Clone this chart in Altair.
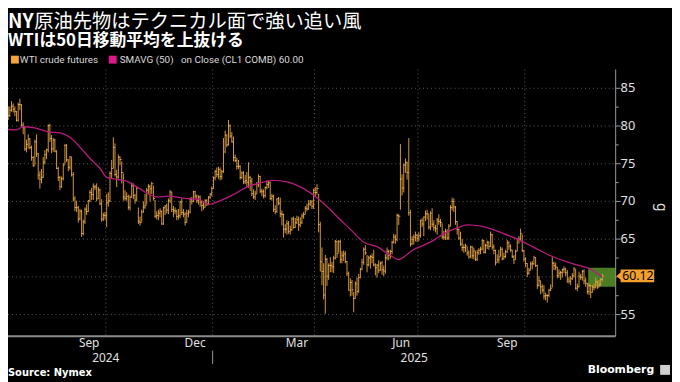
import altair as alt
import numpy as np
import pandas as pd

# ---------------- text ----------------
TITLE_NY = "NY"
TITLE_REST = "原油先物はテクニカル面で強い追い風"
SUBTITLE = "WTIは50日移動平均を上抜ける"
LEGEND_PRICE = "WTI crude futures"
LEGEND_SMA = "SMAVG (50)\u00a0\u00a0 on Close (CL1 COMB) 60.00"
SOURCE = "Source: Nymex"
BRAND = "Bloomberg"
Y_TITLE = "g"
Y_TICKS = [55, 60, 65, 70, 75, 80, 85]
Y_LABELS = [55, 65, 70, 75, 80, 85]   # the 60 label sits under the price tag
Y_MINOR = [57.5, 62.5, 67.5, 72.5, 77.5, 82.5]
LAST_PRICE = [60.12]
LAST_LABEL = "60.12"
BOX_START = "2025-11-24"
BOX_RANGE = [58.7, 61.2]
LABELED_MONTHS = {"2024-09": "Sep", "2024-12": "Dec", "2025-03": "Mar",
                  "2025-06": "Jun", "2025-09": "Sep"}
GRID_MONTHS = ["2024-10", "2025-01", "2025-04", "2025-07", "2025-10"]
HOLIDAYS = ["2024-07-04", "2024-09-02", "2024-11-28", "2024-12-25", "2025-01-01",
            "2025-01-20", "2025-02-17", "2025-04-18", "2025-05-26", "2025-06-19",
            "2025-07-04", "2025-09-01", "2025-11-27"]

# ---------------- daily bars (close / high / low) ----------------
close_2024_07 = [83.38, 82.81, 83.88, 83.16, 82.33, 81.41, 82.10, 82.62, 82.21, 81.91, 80.76, 82.85, 82.82, 80.13, 79.78, 76.96, 77.59, 78.28, 77.16, 75.81, 74.73, 77.91]
high_2024_07 = [83.5, 84.0, 84.1, 84.5, 83.5, 82.6, 82.6, 83.3, 83.0, 82.6, 82.0, 83.1, 83.6, 82.9, 80.5, 79.9, 78.2, 78.9, 78.4, 77.4, 76.0, 78.2]
low_2024_07 = [81.4, 82.4, 82.6, 82.8, 82.0, 80.8, 81.2, 81.9, 81.8, 81.3, 80.6, 80.6, 82.1, 79.9, 78.9, 76.7, 76.5, 77.0, 76.9, 75.4, 74.6, 74.8]

close_2024_08 = [76.31, 73.52, 72.94, 73.20, 75.23, 76.19, 76.84, 80.06, 78.35, 76.98, 78.16, 76.65, 74.37, 73.17, 71.93, 73.01, 74.83, 77.42, 75.53, 74.52, 75.91, 73.55]
high_2024_08 = [78.9, 76.4, 74.0, 74.3, 75.9, 76.8, 77.0, 80.2, 80.3, 78.8, 78.4, 78.3, 76.8, 74.6, 73.4, 73.3, 75.1, 77.6, 77.6, 75.6, 76.0, 75.9]
low_2024_08 = [75.9, 72.9, 71.7, 72.4, 73.1, 74.9, 75.6, 76.5, 77.9, 76.4, 76.6, 76.5, 74.3, 72.7, 71.5, 71.8, 72.8, 74.9, 75.2, 74.0, 74.2, 73.3]

close_2024_09 = [70.34, 69.20, 69.15, 67.67, 68.71, 65.75, 67.31, 68.97, 68.65, 70.09, 71.19, 70.91, 71.95, 71.92, 70.37, 71.56, 69.69, 67.67, 68.18, 68.17]
high_2024_09 = [73.9, 70.7, 70.1, 69.4, 69.0, 68.9, 67.6, 69.2, 69.6, 70.2, 71.5, 71.8, 72.4, 72.2, 72.4, 71.9, 71.7, 70.3, 68.5, 68.6]
low_2024_09 = [70.0, 68.7, 68.6, 67.2, 67.5, 65.3, 65.5, 67.0, 68.2, 68.6, 69.9, 70.2, 70.2, 71.5, 70.0, 70.3, 69.5, 67.3, 67.4, 67.6]

close_2024_10 = [69.83, 70.10, 73.71, 74.38, 77.14, 73.57, 73.24, 75.85, 75.56, 73.83, 70.58, 70.39, 70.67, 69.22, 70.56, 72.09, 70.77, 70.19, 71.78, 67.38, 67.21, 68.61, 69.26]
high_2024_10 = [71.0, 71.2, 74.0, 75.5, 78.5, 77.7, 74.2, 76.2, 76.0, 75.3, 73.7, 71.5, 71.2, 70.9, 70.8, 72.5, 72.4, 71.0, 72.0, 69.2, 68.0, 68.9, 70.0]
low_2024_10 = [66.6, 69.3, 69.9, 73.0, 74.4, 73.3, 71.9, 73.0, 74.8, 72.4, 70.1, 70.1, 70.1, 68.9, 68.8, 70.5, 70.3, 69.7, 70.0, 67.0, 66.8, 67.3, 68.5]

close_2024_11 = [69.49, 71.47, 71.99, 71.69, 72.36, 70.38, 68.04, 68.12, 68.43, 68.70, 67.02, 69.16, 69.39, 68.87, 70.10, 71.24, 68.94, 68.77, 68.72, 68.00]
high_2024_11 = [71.0, 71.8, 72.3, 72.2, 72.6, 72.1, 70.2, 68.7, 68.9, 69.1, 68.8, 69.3, 69.5, 69.7, 70.4, 71.5, 71.3, 69.4, 69.2, 68.9]
low_2024_11 = [69.0, 69.6, 71.0, 70.0, 71.0, 70.1, 67.8, 67.6, 67.5, 67.9, 66.9, 66.9, 68.2, 68.4, 68.3, 69.8, 68.6, 67.9, 68.3, 67.5]

close_2024_12 = [68.10, 69.94, 68.54, 68.30, 67.20, 68.37, 68.59, 70.29, 70.02, 71.29, 70.71, 70.08, 70.58, 69.91, 69.46, 69.24, 70.10, 69.62, 70.60, 70.99, 71.72]
high_2024_12 = [69.0, 70.1, 70.4, 69.0, 68.6, 68.9, 68.9, 70.5, 70.6, 71.4, 71.4, 70.9, 70.8, 70.8, 70.0, 70.0, 70.3, 70.3, 70.7, 71.1, 72.0]
low_2024_12 = [67.6, 67.8, 68.2, 67.9, 66.8, 67.2, 67.9, 68.4, 69.6, 69.9, 70.4, 69.8, 69.6, 69.3, 68.7, 68.9, 69.2, 69.4, 69.5, 70.3, 70.7]

close_2025_01 = [73.13, 73.96, 73.56, 74.25, 73.32, 73.92, 76.57, 78.82, 77.50, 80.04, 78.68, 77.88, 75.83, 75.44, 74.62, 74.66, 73.17, 73.77, 72.62, 72.73, 72.53]
high_2025_01 = [73.3, 74.2, 74.5, 74.6, 74.5, 74.2, 78.4, 79.4, 78.9, 80.8, 80.2, 79.2, 78.6, 76.2, 75.8, 75.5, 74.8, 74.0, 74.0, 73.5, 73.9]
low_2025_01 = [71.7, 72.8, 73.2, 73.0, 72.8, 72.9, 73.8, 76.4, 77.2, 77.4, 78.4, 77.8, 75.3, 75.2, 74.2, 74.3, 72.9, 73.0, 72.3, 72.3, 71.9]

close_2025_02 = [73.16, 72.70, 71.03, 70.61, 71.00, 72.32, 73.32, 71.37, 71.29, 70.74, 71.85, 72.25, 72.48, 70.40, 70.70, 68.93, 68.62, 70.35, 69.76]
high_2025_02 = [75.2, 73.4, 73.1, 71.6, 71.4, 72.6, 73.6, 73.4, 71.7, 71.6, 72.0, 72.8, 72.8, 72.6, 71.0, 70.9, 69.5, 70.4, 70.6]
low_2025_02 = [71.8, 71.4, 70.7, 70.3, 70.2, 71.0, 71.9, 71.1, 70.7, 70.4, 70.5, 71.6, 71.8, 70.2, 70.1, 68.6, 68.3, 68.5, 69.5]

close_2025_03 = [68.37, 68.26, 66.31, 66.36, 67.04, 66.03, 66.25, 67.68, 66.55, 67.18, 67.58, 66.90, 67.16, 68.07, 68.28, 69.11, 69.00, 69.65, 69.92, 69.36, 71.48]
high_2025_03 = [70.5, 68.8, 68.4, 67.0, 67.5, 67.4, 66.8, 67.9, 68.0, 67.8, 68.1, 68.0, 67.9, 68.4, 68.6, 69.4, 69.7, 70.2, 70.2, 70.2, 71.7]
low_2025_03 = [67.9, 66.8, 65.2, 65.8, 65.6, 65.7, 65.6, 66.1, 66.4, 66.5, 67.0, 66.1, 66.6, 67.0, 67.7, 68.3, 68.7, 68.9, 69.4, 69.0, 69.0]

close_2025_04 = [71.20, 71.71, 66.95, 61.99, 60.70, 57.58, 62.35, 60.07, 61.50, 61.53, 61.33, 62.47, 64.68, 63.08, 64.67, 62.27, 62.79, 63.02, 62.05, 60.42, 58.21]
high_2025_04 = [71.9, 72.3, 71.0, 67.3, 63.9, 61.8, 62.9, 62.5, 61.8, 62.6, 62.0, 62.8, 64.9, 64.8, 64.9, 64.9, 63.4, 63.5, 63.4, 62.1, 60.7]
low_2025_04 = [70.6, 70.9, 65.9, 60.7, 58.9, 57.0, 55.1, 58.8, 59.6, 60.6, 60.6, 60.5, 62.3, 62.5, 63.2, 61.8, 61.8, 62.1, 61.8, 60.1, 58.2]

close_2025_05 = [59.24, 58.29, 57.13, 59.09, 58.07, 59.91, 61.02, 61.95, 63.67, 63.15, 61.62, 62.49, 62.69, 62.56, 61.57, 61.20, 61.53, 60.89, 61.84, 60.94, 60.79]
high_2025_05 = [59.8, 59.6, 58.0, 59.4, 59.9, 60.4, 61.2, 62.4, 63.9, 64.2, 62.9, 62.8, 62.9, 63.1, 63.6, 61.8, 61.7, 62.2, 62.0, 62.1, 61.5]
low_2025_05 = [57.4, 57.5, 55.3, 57.1, 57.5, 57.9, 59.8, 60.9, 61.6, 62.9, 60.6, 61.4, 61.1, 61.8, 61.4, 60.2, 59.9, 60.5, 60.8, 60.3, 60.1]

close_2025_06 = [62.52, 63.41, 62.85, 63.37, 64.58, 65.29, 64.98, 68.15, 68.04, 72.98, 71.77, 74.84, 75.14, 73.84, 68.51, 64.37, 64.92, 65.24, 65.52, 65.11]
high_2025_06 = [63.0, 63.9, 63.6, 63.6, 64.8, 65.7, 65.6, 68.4, 68.3, 77.6, 73.6, 75.0, 75.7, 75.3, 78.4, 68.9, 65.4, 65.6, 66.0, 65.7]
low_2025_06 = [60.4, 62.2, 62.2, 62.4, 63.0, 64.4, 64.4, 64.7, 66.9, 68.9, 70.8, 71.2, 73.8, 72.9, 68.1, 64.0, 64.2, 64.3, 64.7, 64.6]

close_2025_07 = [65.45, 67.45, 67.00, 67.93, 68.33, 68.38, 66.57, 68.45, 66.98, 66.52, 66.38, 67.54, 67.34, 67.20, 65.31, 65.25, 66.03, 65.16, 66.71, 69.21, 70.00, 69.26]
high_2025_07 = [65.9, 67.6, 67.8, 68.0, 68.8, 68.9, 68.3, 68.7, 69.1, 67.5, 66.9, 67.8, 68.3, 67.7, 67.1, 66.1, 66.4, 66.3, 67.0, 69.5, 70.5, 70.4]
low_2025_07 = [64.7, 65.2, 66.6, 65.4, 67.4, 67.6, 66.3, 66.2, 66.6, 66.1, 65.9, 65.6, 66.9, 66.6, 65.0, 64.9, 64.9, 64.9, 64.9, 66.7, 68.8, 68.6]

close_2025_08 = [67.33, 66.29, 65.16, 64.35, 63.88, 63.88, 64.10, 63.17, 62.65, 63.96, 62.80, 63.42, 62.35, 63.21, 63.52, 63.66, 64.80, 63.25, 64.15, 64.60, 64.01]
high_2025_08 = [69.4, 67.4, 66.4, 66.0, 65.0, 64.3, 64.4, 64.0, 63.5, 64.1, 64.1, 63.9, 63.4, 63.6, 63.8, 64.0, 65.0, 64.9, 64.4, 64.8, 64.7]
low_2025_08 = [66.9, 65.6, 64.9, 64.1, 63.4, 63.2, 63.3, 62.8, 62.4, 62.5, 62.4, 62.3, 62.1, 62.1, 62.9, 63.0, 63.5, 63.1, 63.1, 63.7, 63.6]

close_2025_09 = [65.59, 63.97, 63.48, 61.87, 62.26, 62.63, 63.67, 62.37, 62.69, 63.30, 64.52, 64.05, 63.57, 62.68, 62.28, 63.41, 64.99, 64.98, 65.72, 63.45, 62.37]
high_2025_09 = [66.0, 65.7, 64.3, 63.6, 63.0, 63.6, 64.0, 63.9, 63.2, 63.6, 64.9, 64.7, 64.3, 63.6, 62.9, 63.6, 65.1, 65.4, 66.4, 65.6, 63.6]
low_2025_09 = [64.0, 63.6, 63.0, 61.5, 61.9, 61.8, 62.7, 62.2, 62.3, 62.5, 63.2, 63.6, 63.3, 62.5, 61.7, 62.3, 63.4, 64.4, 64.7, 63.3, 62.0]

close_2025_10 = [61.78, 60.48, 60.88, 61.69, 61.73, 62.55, 61.51, 58.90, 59.49, 58.70, 58.27, 57.46, 57.54, 57.52, 58.24, 58.50, 61.79, 61.50, 61.31, 60.15, 60.48, 60.57, 60.98]
high_2025_10 = [62.6, 61.8, 61.2, 62.0, 62.1, 62.8, 62.6, 61.6, 60.1, 59.5, 59.0, 58.9, 57.9, 57.7, 58.4, 59.0, 62.6, 62.0, 61.9, 61.3, 61.0, 60.8, 61.1]
low_2025_10 = [61.3, 60.0, 60.3, 60.9, 61.0, 61.6, 61.3, 58.4, 58.7, 57.7, 57.9, 57.0, 56.9, 56.6, 57.3, 58.1, 58.6, 60.9, 60.9, 59.8, 59.9, 59.6, 59.9]

close_2025_11 = [61.05, 60.56, 59.60, 59.43, 59.75, 60.13, 61.04, 58.49, 58.69, 60.09, 59.91, 60.74, 59.44, 59.14, 58.06, 58.84, 57.95, 58.65, 58.55]
high_2025_11 = [61.4, 61.2, 60.9, 60.0, 60.1, 60.5, 61.3, 61.0, 59.1, 60.7, 60.4, 60.9, 61.0, 59.9, 59.2, 59.2, 58.9, 58.9, 59.1]
low_2025_11 = [60.5, 60.1, 59.2, 59.1, 58.9, 59.6, 59.9, 58.3, 58.1, 58.6, 59.6, 59.5, 59.0, 58.7, 57.7, 57.6, 57.2, 57.9, 58.2]

close_2025_12 = [59.32, 58.64, 58.95, 59.67, 60.12]
high_2025_12 = [59.9, 59.5, 59.6, 59.8, 60.4]
low_2025_12 = [58.5, 58.4, 58.6, 58.8, 59.4]

# ---------------- 50-day moving average ----------------
sma_dates = ["2024-07-01", "2024-07-16", "2024-07-22", "2024-07-30", "2024-08-13", "2024-08-21",
             "2024-08-29", "2024-09-09", "2024-09-17", "2024-09-25", "2024-10-01", "2024-10-07",
             "2024-10-17", "2024-10-28", "2024-11-12", "2024-11-21", "2024-12-06", "2024-12-18",
             "2024-12-27", "2025-01-07", "2025-01-17", "2025-02-03", "2025-02-11", "2025-02-25",
             "2025-03-07", "2025-03-21", "2025-04-02", "2025-04-14", "2025-04-21", "2025-05-01",
             "2025-05-13", "2025-05-23", "2025-06-04", "2025-06-12", "2025-06-18", "2025-06-25",
             "2025-07-03", "2025-07-16", "2025-07-22", "2025-08-01", "2025-08-12", "2025-08-25",
             "2025-09-10", "2025-09-26", "2025-10-08", "2025-10-24", "2025-11-11", "2025-11-25",
             "2025-12-05"]
sma_values = [79.6, 79.5, 79.9, 79.8, 79.2, 79.1, 78.5, 77.2, 75.7, 74.4, 73.2, 73.0,
              72.7, 71.8, 70.6, 70.7, 70.4, 70.3, 69.6, 70.0, 70.8, 72.0, 72.4, 72.8,
              72.6, 71.7, 70.5, 68.9, 68.0, 66.3, 64.6, 64.0, 63.0, 62.3, 62.8, 63.5,
              64.1, 65.0, 65.6, 66.4, 66.9, 66.7, 65.9, 64.8, 63.9, 62.6, 61.7, 61.0,
              60.0]

months = ["2024-07", "2024-08", "2024-09", "2024-10", "2024-11", "2024-12",
          "2025-01", "2025-02", "2025-03", "2025-04", "2025-05", "2025-06",
          "2025-07", "2025-08", "2025-09", "2025-10", "2025-11", "2025-12"]
g = globals()

# trading calendar -> sequential bar index (Bloomberg style, no gaps)
days = pd.bdate_range("2024-07-01", "2025-12-31")
days = days[~days.isin(pd.to_datetime(HOLIDAYS))]
rows = []
for m in months:
    key = m.replace("-", "_")
    c, h, l = g["close_" + key], g["high_" + key], g["low_" + key]
    md = days[days.strftime("%Y-%m") == m]
    n = min(len(md), len(c), len(h), len(l))
    for k in range(n):
        rows.append({"date": md[k], "month": m, "close": c[k], "high": h[k], "low": l[k]})
df = pd.DataFrame(rows)
df["i"] = np.arange(len(df))
idx_of = dict(zip(df["date"].dt.strftime("%Y-%m-%d"), df["i"]))


def date_idx(s):
    if s in idx_of:
        return idx_of[s]
    pos = int(np.searchsorted(df["date"].values, np.datetime64(s)))
    return int(min(pos, len(df) - 1))


sma_df = pd.DataFrame({"i": [date_idx(d) for d in sma_dates], "sma": sma_values})

first_i = df.groupby("month")["i"].min()
last_i = df.groupby("month")["i"].max()

X0, X1 = 4.89, 368.97
W, H = 615, 270
xs = alt.Scale(domain=[X0, X1], nice=False, zero=False)
ys = alt.Scale(domain=[52.12, 87.49], nice=False, zero=False)
XI = alt.X("i:Q", scale=xs, axis=None)

month_ticks = pd.DataFrame({"i": [first_i[m] - 0.5 for m in months[1:]]})
grid_df = pd.DataFrame({"i": [first_i[m] - 0.5 for m in GRID_MONTHS]})
mlab_df = pd.DataFrame({"i": [(first_i[m] + last_i[m]) / 2 for m in LABELED_MONTHS],
                        "t": list(LABELED_MONTHS.values())})
jan = first_i["2025-01"] - 0.5
year_df = pd.DataFrame({"i": [(df["i"].min() - 0.5 + jan) / 2, (jan + X1) / 2],
                        "t": ["2024", "2025"]})
sep_df = pd.DataFrame({"i": [jan]})
box_df = pd.DataFrame({"i": [date_idx(BOX_START) - 0.5], "i2": [X1],
                       "lo": [BOX_RANGE[0]], "hi": [BOX_RANGE[1]]})
last_df = pd.DataFrame({"v": LAST_PRICE, "t": [LAST_LABEL]})
minor_df = pd.DataFrame({"v": Y_MINOR})
ytick_df = pd.DataFrame({"v": Y_TICKS})
ylab_df = pd.DataFrame({"v": Y_LABELS, "t": [str(v) for v in Y_LABELS]})

# ----- y axis drawn from the tick list through the y scale -----
hgrid = alt.Chart(ytick_df).mark_rule(color="#5c5c5c", strokeDash=[1, 3]).encode(
    x=alt.value(0), x2=alt.value(W), y=alt.Y("v:Q", scale=ys, axis=None))
ymajor = alt.Chart(ytick_df).mark_rule(color="#9a9a9a").encode(
    x=alt.value(W), x2=alt.value(W + 5), y=alt.Y("v:Q", scale=ys, axis=None))
yminor = alt.Chart(minor_df).mark_rule(color="#9a9a9a").encode(
    x=alt.value(W), x2=alt.value(W + 3), y=alt.Y("v:Q", scale=ys, axis=None))
ylabs = alt.Chart(ylab_df).mark_text(align="left", baseline="middle", fontSize=13,
                                     font="Noto Sans", color="#e2e2e2").encode(
    x=alt.value(W + 5), y=alt.Y("v:Q", scale=ys, axis=None), text="t:N")
ydomain = alt.Chart(pd.DataFrame({"a": [0]})).mark_rule(color="#9a9a9a").encode(
    x=alt.value(W), y=alt.value(0), y2=alt.value(H))

bars = alt.Chart(df).mark_rule(color="#D6963A", strokeWidth=1, clip=True).encode(
    x=XI, y=alt.Y("low:Q", scale=ys, axis=None), y2="high:Q")

closes = alt.Chart(df).mark_tick(orient="horizontal", size=2, thickness=1,
                                 color="#F6C66E", clip=True, xOffset=0.7).encode(
    x=XI, y=alt.Y("close:Q", scale=ys, axis=None))

box = alt.Chart(box_df).mark_rect(color="#5E9E2B", opacity=0.8, clip=True).encode(
    x=XI, x2="i2:Q", y=alt.Y("lo:Q", scale=ys, axis=None), y2="hi:Q")

sma = alt.Chart(sma_df).mark_line(color="#B81A7D", strokeWidth=1.3,
                                  interpolate="monotone", clip=True).encode(
    x=XI, y=alt.Y("sma:Q", scale=ys, axis=None))

vgrid = alt.Chart(grid_df).mark_rule(color="#5c5c5c", strokeDash=[1, 3]).encode(
    x=XI, y=alt.value(0), y2=alt.value(H))

xline = alt.Chart(pd.DataFrame({"a": [0]})).mark_rule(color="#8c8c8c", strokeWidth=2).encode(
    x=alt.value(0), x2=alt.value(W), y=alt.value(H))

mticks = alt.Chart(month_ticks).mark_rule(color="#9a9a9a", clip=True).encode(
    x=XI, y=alt.value(H), y2=alt.value(H + 3))

mlabels = alt.Chart(mlab_df).mark_text(fontSize=12, font="Noto Sans", color="#e2e2e2",
                                       baseline="middle").encode(
    x=XI, y=alt.value(277), text="t:N")

ylabels = alt.Chart(year_df).mark_text(fontSize=12, font="Noto Sans", color="#e2e2e2",
                                       baseline="middle").encode(
    x=XI, y=alt.value(292), text="t:N")

yearsep = alt.Chart(sep_df).mark_rule(color="#9a9a9a").encode(
    x=XI, y=alt.value(284.5), y2=alt.value(298))

PATH = "M-1,0 L-0.79,-0.2 L-0.79,-0.34 L1,-0.34 L1,0.34 L-0.79,0.34 L-0.79,0.2 Z"
tag = alt.Chart(last_df).mark_point(shape=PATH, size=1444, filled=True, opacity=1,
                                    color="#F5A02A").encode(
    x=alt.value(635), y=alt.Y("v:Q", scale=ys, axis=None))
tagtext = alt.Chart(last_df).mark_text(fontSize=12.5, font="Noto Sans", color="#000000",
                                       baseline="middle").encode(
    x=alt.value(637.5), y=alt.Y("v:Q", scale=ys, axis=None), text="t:N")


def label(text, x, y, size, color="#e6e6e6", weight="normal", font="Noto Sans",
          align="left", angle=0):
    return alt.Chart(pd.DataFrame({"t": [text]})).mark_text(
        align=align, baseline="middle", fontSize=size, font=font, fontWeight=weight,
        color=color, angle=angle).encode(x=alt.value(x), y=alt.value(y), text="t:N")


def square(x, y, s, color):
    return alt.Chart(pd.DataFrame({"a": [0]})).mark_rect(color=color).encode(
        x=alt.value(x), x2=alt.value(x + s), y=alt.value(y), y2=alt.value(y + s))


texts = [
    label(TITLE_NY, 0, -48, 19.5, color="#ffffff", weight="bold", font="Noto Sans CJK JP"),
    label(TITLE_REST, 26.5, -48, 19.5, color="#ffffff", font="Noto Sans CJK JP"),
    label(SUBTITLE, 0, -28.5, 17, color="#ffffff", weight="bold", font="Noto Sans CJK JP"),
    square(3, -14, 8, "#F4A43A"),
    label(LEGEND_PRICE, 12, -10, 10, color="#d8d8d8", font="Roboto"),
    square(102, -14, 8, "#E0168C"),
    label(LEGEND_SMA, 113, -10, 10, color="#d8d8d8", font="Roboto"),
    label(Y_TITLE, 661, 135, 14, color="#e2e2e2", angle=90),
    label(SOURCE, 0, 307, 10, color="#ffffff", weight="bold", font="DejaVu Sans"),
    label(BRAND, 654, 304.5, 11, color="#ffffff", weight="bold", font="DejaVu Sans", align="right"),
    square(660, 299, 10, "#cfcfcf"),
]

chart = alt.layer(
    hgrid, vgrid, box, bars, closes, sma, xline, mticks, ydomain, ymajor, yminor, ylabs,
    mlabels, ylabels, yearsep, tag, tagtext, *texts
).properties(
    width=W, height=H,
    padding={"left": 0, "top": 60, "right": 57, "bottom": 44},
    autosize=alt.AutoSizeParams(type="none"),
    background="#000000",
).configure_view(stroke=None)

chart.save("out.html", embed_options={"renderer": "svg", "actions": False})
